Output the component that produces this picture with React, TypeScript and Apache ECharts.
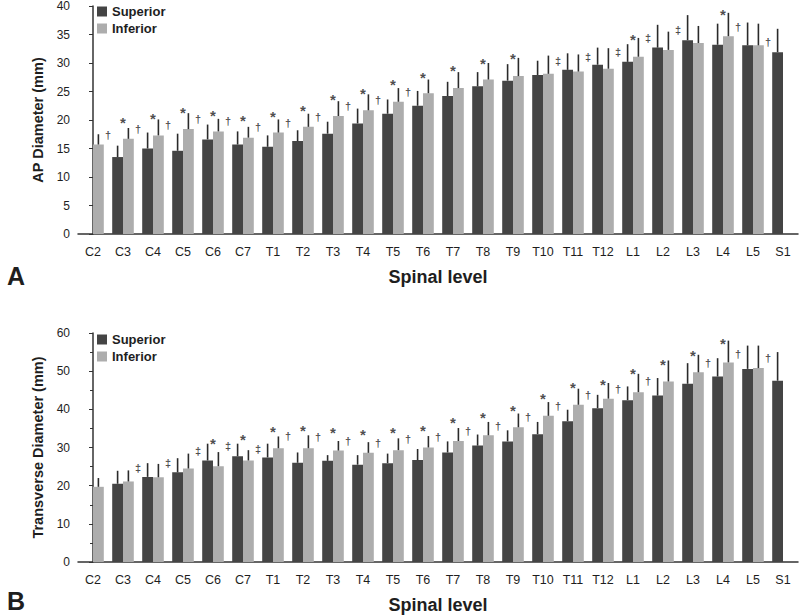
import React, { useEffect, useRef } from 'react';
import * as echarts from 'echarts';

const levels = ['C2', 'C3', 'C4', 'C5', 'C6', 'C7', 'T1', 'T2', 'T3', 'T4', 'T5', 'T6', 'T7', 'T8', 'T9', 'T10', 'T11', 'T12', 'L1', 'L2', 'L3', 'L4', 'L5', 'S1'];

// Panel A: AP diameter (mm), mean and SD
const apSuperior = [null, 13.5, 15.0, 14.6, 16.6, 15.7, 15.3, 16.3, 17.6, 19.4, 21.1, 22.5, 24.2, 25.9, 26.9, 27.9, 28.8, 29.7, 30.2, 32.7, 34.0, 33.2, 33.1, 31.9];
const apSuperiorSD = [null, 2.0, 2.8, 3.0, 2.6, 2.3, 2.0, 1.9, 2.1, 2.6, 2.5, 2.6, 2.5, 2.5, 2.9, 2.5, 2.9, 3.0, 3.1, 4.0, 4.4, 3.7, 4.0, 4.1];
const apInferior = [15.7, 16.7, 17.3, 18.4, 18.0, 16.9, 17.8, 18.8, 20.7, 21.7, 23.2, 24.7, 25.6, 27.1, 27.7, 28.1, 28.5, 29.0, 31.1, 32.3, 33.5, 34.7, 33.1, null];
const apInferiorSD = [1.8, 1.9, 2.8, 2.8, 2.2, 1.9, 2.3, 2.3, 2.6, 2.8, 2.4, 2.4, 2.8, 2.9, 3.2, 3.2, 3.0, 3.6, 3.3, 3.2, 3.0, 4.1, 3.8, null];
// significance marks: [level index, height in mm]; daggers sit between level i and i+1
const apStars = [[1, 20.1], [2, 20.8], [3, 21.8], [4, 21.3], [5, 20.4], [6, 21.1], [7, 22.2], [8, 24.1], [9, 25.1], [10, 26.7], [11, 28.0], [12, 29.2], [13, 30.5], [14, 31.3], [18, 34.7], [21, 39.0]];
const apDaggers = [[0, 17.3], [1, 18.5], [2, 19.1], [3, 20.2], [4, 19.8], [5, 18.7], [6, 19.5], [7, 20.5], [8, 22.5], [9, 23.5], [10, 24.9], [21, 36.3], [22, 33.6]];
const apDoubleDaggers = [[15, 30.4], [16, 31.1], [17, 31.9], [18, 34.3], [19, 35.8]];

// Panel B: transverse diameter (mm), mean and SD
const trSuperior = [null, 20.5, 22.3, 23.5, 26.6, 27.7, 27.4, 26.0, 26.5, 25.5, 25.9, 26.7, 28.7, 30.5, 31.6, 33.5, 36.9, 40.3, 42.4, 43.6, 46.7, 48.6, 50.6, 47.5];
const trSuperiorSD = [null, 3.4, 3.6, 3.7, 4.4, 3.3, 3.6, 2.7, 1.5, 2.5, 2.5, 2.9, 2.9, 2.9, 2.9, 3.2, 3.0, 3.5, 3.6, 4.6, 5.4, 4.8, 6.1, 7.5];
const trInferior = [19.7, 21.1, 22.2, 24.5, 25.1, 26.6, 29.8, 29.8, 29.2, 28.6, 29.3, 30.0, 31.7, 33.2, 35.3, 38.3, 41.2, 42.8, 44.5, 47.3, 49.7, 52.3, 50.8, null];
const trInferiorSD = [2.3, 2.9, 3.5, 3.9, 3.7, 2.7, 3.1, 3.4, 2.5, 2.8, 3.1, 3.0, 3.4, 3.5, 3.6, 3.6, 4.2, 4.1, 4.8, 5.5, 4.6, 5.7, 5.9, null];
const trStars = [[4, 31.8], [5, 32.9], [6, 35.1], [7, 35.3], [8, 34.8], [9, 34.2], [10, 34.8], [11, 35.3], [12, 37.3], [13, 38.6], [14, 40.6], [15, 43.6], [16, 46.6], [17, 47.3], [18, 50.1], [19, 52.6], [20, 54.9], [21, 58.1]];
const trDaggers = [[6, 32.9], [7, 32.7], [8, 31.8], [9, 31.2], [10, 32.1], [11, 32.7], [12, 34.2], [13, 35.7], [14, 38.0], [15, 40.8], [16, 43.8], [17, 45.3], [18, 47.3], [20, 52.1], [21, 54.6], [22, 53.4]];
const trDoubleDaggers = [[1, 24.6], [2, 25.9], [3, 29.2], [4, 30.3], [5, 29.6]];

const DARK = '#444444';
const LIGHT = '#adadad';
const INK = '#1e1e1e';
const FONT = "'Liberation Sans', Arial, sans-serif";
const NARROW = "'Liberation Sans Narrow', 'Liberation Sans', Arial, sans-serif";
const BAR_FRAC = 0.36;

function errorSeries(means: (number | null)[], sds: (number | null)[], shift: number, xAxisIndex: number, yAxisIndex: number) {
  const data: number[][] = [];
  means.forEach((m, i) => {
    if (m != null && sds[i] != null) data.push([i + shift, m, sds[i] as number]);
  });
  return {
    type: 'custom',
    xAxisIndex,
    yAxisIndex,
    silent: true,
    z: 4,
    data,
    renderItem: (_p: any, api: any) => {
      const x = api.value(0);
      const m = api.value(1);
      const s = api.value(2);
      const a = api.coord([x, m]);
      const b = api.coord([x, m + s]);
      return {
        type: 'line',
        shape: { x1: a[0], y1: a[1], x2: b[0], y2: b[1] },
        style: { stroke: '#2a2a2a', lineWidth: 1.6 },
      };
    },
  };
}

function markSeries(items: number[][], glyph: string, shift: number, xAxisIndex: number, yAxisIndex: number, fontSize: number, dy: number, bold: boolean) {
  return {
    type: 'scatter',
    xAxisIndex,
    yAxisIndex,
    silent: true,
    symbolSize: 1,
    itemStyle: { color: 'rgba(0,0,0,0)' },
    z: 5,
    data: items.map(([i, y]) => [i + shift, y]),
    label: {
      show: true,
      position: 'inside',
      formatter: glyph,
      fontSize,
      fontWeight: bold ? 'bold' : 'normal',
      fontFamily: FONT,
      color: INK,
      offset: [0, dy],
    },
  };
}

function catAxis(gridIndex: number) {
  return {
    type: 'category',
    gridIndex,
    data: levels,
    axisLine: { lineStyle: { color: '#333', width: 1.5 } },
    axisTick: { alignWithLabel: true, length: 4, lineStyle: { color: '#333' } },
    axisLabel: { interval: 0, fontSize: 12.5, color: INK, margin: 11, fontFamily: NARROW },
    name: 'Spinal level',
    nameLocation: 'middle',
    nameGap: 34,
    nameTextStyle: { fontSize: 18, fontWeight: 'bold', color: INK, fontFamily: FONT },
  };
}

function hiddenAxis(gridIndex: number) {
  return { type: 'value', gridIndex, min: -0.5, max: 23.5, show: false };
}

function valAxis(gridIndex: number, max: number, interval: number, name: string, minor: boolean) {
  return {
    type: 'value',
    gridIndex,
    min: 0,
    max,
    interval,
    axisLine: { show: true, lineStyle: { color: '#333', width: 1.5 } },
    axisTick: { show: true, length: 4, lineStyle: { color: '#333' } },
    minorTick: { show: minor, splitNumber: 2, length: 3, lineStyle: { color: '#333' } },
    splitLine: { show: false },
    axisLabel: { fontSize: 12, color: INK, margin: 8, fontFamily: FONT },
    name,
    nameLocation: 'middle',
    nameRotate: 90,
    nameGap: 33,
    nameTextStyle: { fontSize: 14.5, fontWeight: 'bold', color: INK, fontFamily: FONT },
  };
}

function legend(top: number) {
  return {
    orient: 'vertical',
    left: 92,
    top,
    padding: 5,
    icon: 'rect',
    itemWidth: 10,
    itemHeight: 10,
    itemGap: 4,
    data: ['Superior', 'Inferior'],
    textStyle: { fontSize: 13, fontWeight: 'bold', color: INK, fontFamily: FONT },
  };
}

export default function App() {
  const ref = useRef<HTMLDivElement>(null);
  useEffect(() => {
    if (!ref.current) return;
    const chart = echarts.init(ref.current, undefined, { renderer: 'svg' });
    const off = BAR_FRAC / 2;
    chart.setOption({
      animation: false,
      backgroundColor: '#ffffff',
      textStyle: { fontFamily: FONT },
      grid: [
        { left: 78, top: 5, width: 720, height: 229 },
        { left: 78, top: 333, width: 720, height: 229 },
      ],
      legend: [legend(0), legend(328)],
      xAxis: [catAxis(0), catAxis(1), hiddenAxis(0), hiddenAxis(1)],
      yAxis: [
        valAxis(0, 40, 5, 'AP Diameter (mm)', false),
        valAxis(1, 60, 10, 'Transverse Diameter (mm)', true),
      ],
      graphic: [
        { type: 'text', left: 7, top: 263, style: { text: 'A', fontSize: 25, fontWeight: 'bold', fill: INK, fontFamily: FONT } },
        { type: 'text', left: 7, top: 588, style: { text: 'B', fontSize: 25, fontWeight: 'bold', fill: INK, fontFamily: FONT } },
      ],
      series: [
        { type: 'bar', name: 'Superior', xAxisIndex: 0, yAxisIndex: 0, data: apSuperior, barWidth: '36%', barGap: '0%', itemStyle: { color: DARK } },
        { type: 'bar', name: 'Inferior', xAxisIndex: 0, yAxisIndex: 0, data: apInferior, barWidth: '36%', barGap: '0%', itemStyle: { color: LIGHT } },
        { type: 'bar', name: 'Superior', xAxisIndex: 1, yAxisIndex: 1, data: trSuperior, barWidth: '36%', barGap: '0%', itemStyle: { color: DARK } },
        { type: 'bar', name: 'Inferior', xAxisIndex: 1, yAxisIndex: 1, data: trInferior, barWidth: '36%', barGap: '0%', itemStyle: { color: LIGHT } },
        errorSeries(apSuperior, apSuperiorSD, -off, 2, 0),
        errorSeries(apInferior, apInferiorSD, off, 2, 0),
        errorSeries(trSuperior, trSuperiorSD, -off, 3, 1),
        errorSeries(trInferior, trInferiorSD, off, 3, 1),
        markSeries(apStars, '*', 0, 2, 0, 15, 3, true),
        markSeries(apDaggers, '†', 0.5, 2, 0, 11, 0, true),
        markSeries(apDoubleDaggers, '‡', 0.5, 2, 0, 11, 0, true),
        markSeries(trStars, '*', 0, 3, 1, 15, 3, true),
        markSeries(trDaggers, '†', 0.5, 3, 1, 11, 0, true),
        markSeries(trDoubleDaggers, '‡', 0.5, 3, 1, 11, 0, true),
      ],
    });
    return () => chart.dispose();
  }, []);
  return <div ref={ref} style={{ position: 'fixed', left: 0, top: 0, width: 800, height: 616, background: '#fff' }} />;
}
